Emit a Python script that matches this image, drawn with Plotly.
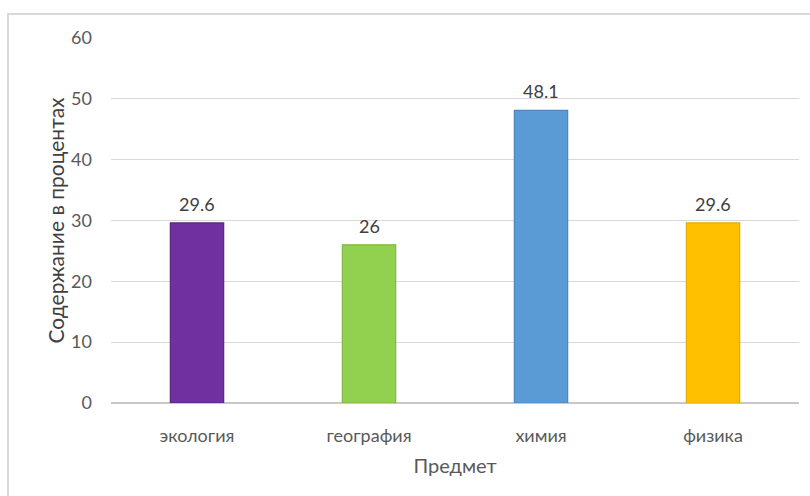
import plotly.graph_objects as go

# Subjects and their percentages
subjects = ["экология", "география", "химия", "физика"]
percent = [29.6, 26, 48.1, 29.6]
fill_colors = ["#7030A0", "#92D050", "#5B9BD5", "#FFC000"]
edge_colors = ["#5B2483", "#7DB83F", "#4A86C0", "#E3AB00"]
y_ticks = [0, 10, 20, 30, 40, 50, 60]

FONT = "Lato, Noto Sans, sans-serif"

fig = go.Figure(
    go.Bar(
        x=subjects,
        y=percent,
        marker=dict(color=fill_colors, line=dict(color=edge_colors, width=1.2)),
        width=0.31,
        hoverinfo="x+y",
    )
)

# Value labels above each bar
for s, v in zip(subjects, percent):
    fig.add_annotation(
        x=s, y=v, text=f"{v:g}", showarrow=False, yshift=19,
        font=dict(family=FONT, size=18, color="#404040"),
    )

# Light frame around the chart area
fig.add_shape(
    type="rect", xref="paper", yref="paper",
    x0=-0.1497, x1=1.2, y0=-0.4, y1=1.0658,
    line=dict(color="#D9D9D9", width=2), fillcolor="rgba(0,0,0,0)", layer="below",
)

fig.update_layout(
    width=810, height=496,
    margin=dict(l=111, r=11, t=38, b=93),
    paper_bgcolor="white", plot_bgcolor="white",
    showlegend=False,
    font=dict(family=FONT, color="#595959"),
)
fig.update_xaxes(
    showgrid=False, showline=False, ticks="",
    ticklabelstandoff=20,
    tickfont=dict(family=FONT, size=18, color="#595959"),
    title=dict(text="Предмет", font=dict(family=FONT, size=20, color="#595959"), standoff=13),
)
fig.update_yaxes(
    range=[0, 60], tickvals=y_ticks,
    showgrid=True, gridcolor="#D9D9D9", gridwidth=1,
    zeroline=True, zerolinecolor="#C8C8C8", zerolinewidth=2,
    showline=False, ticks="", ticklabelstandoff=18,
    tickfont=dict(family=FONT, size=18, color="#595959"),
    title=dict(text="Содержание в процентах", font=dict(family=FONT, size=21, color="#404040"), standoff=0),
)

fig.write_html("out.html")
